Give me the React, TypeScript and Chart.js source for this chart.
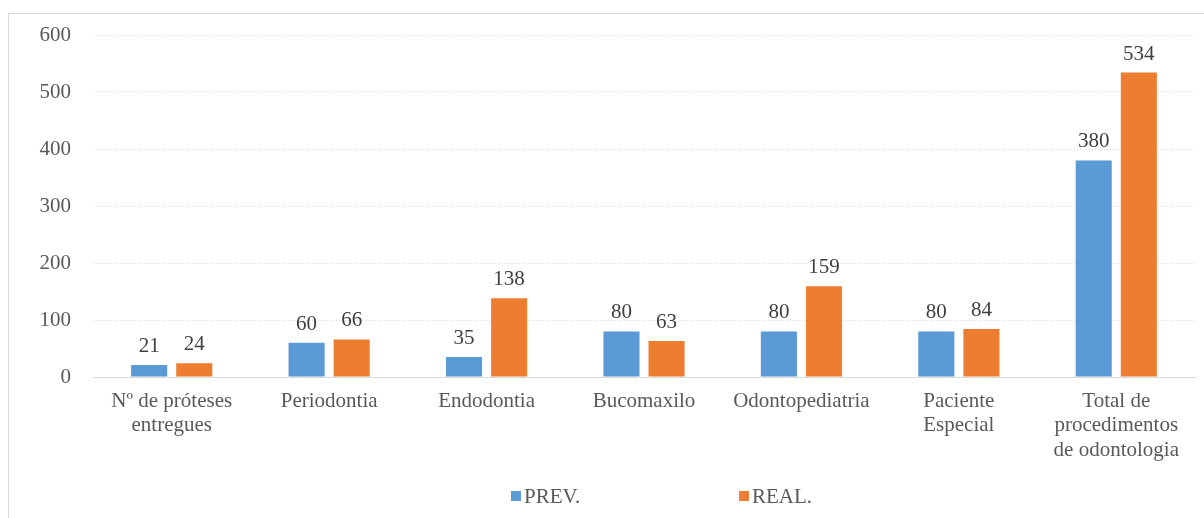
import React, { useEffect, useRef } from "react";
import { Chart, registerables } from "chart.js";

Chart.register(...registerables);

const categories: string[][] = [
  ["Nº de próteses", "entregues"],
  ["Periodontia"],
  ["Endodontia"],
  ["Bucomaxilo"],
  ["Odontopediatria"],
  ["Paciente", "Especial"],
  ["Total de", "procedimentos", "de odontologia"],
];
const prevValues = [21, 60, 35, 80, 80, 80, 380];
const realValues = [24, 66, 138, 63, 159, 84, 534];
const seriesNames = ["PREV.", "REAL."];
const seriesColors = ["#5B9BD5", "#ED7D31"];

const FONT = "'Liberation Serif', 'Times New Roman', serif";

const valueLabels = {
  id: "valueLabels",
  afterDatasetsDraw(chart: any) {
    const ctx = chart.ctx;
    ctx.save();
    ctx.font = `21px ${FONT}`;
    ctx.fillStyle = "#404040";
    ctx.textAlign = "center";
    ctx.textBaseline = "alphabetic";
    chart.data.datasets.forEach((ds: any, i: number) => {
      const meta = chart.getDatasetMeta(i);
      meta.data.forEach((bar: any, j: number) => {
        ctx.fillText(String(ds.data[j]), bar.x, bar.y - 13);
      });
    });
    ctx.restore();
  },
};

export default function App() {
  const ref = useRef<HTMLCanvasElement>(null);
  useEffect(() => {
    if (!ref.current) return;
    const chart = new Chart(ref.current, {
      type: "bar",
      data: {
        labels: categories,
        datasets: [
          {
            label: seriesNames[0],
            data: prevValues,
            backgroundColor: seriesColors[0],
            categoryPercentage: 0.573,
            barPercentage: 0.8,
          },
          {
            label: seriesNames[1],
            data: realValues,
            backgroundColor: seriesColors[1],
            categoryPercentage: 0.573,
            barPercentage: 0.8,
          },
        ],
      },
      options: {
        animation: false,
        responsive: false,
        layout: { padding: { left: 0, right: 9, top: 35, bottom: 0 } },
        plugins: {
          legend: { display: false },
          tooltip: { enabled: false },
        },
        scales: {
          x: {
            grid: { display: false, drawTicks: false },
            border: { display: true, color: "#d9d9d9", width: 1 },
            ticks: {
              color: "#595959",
              font: { family: FONT, size: 21, lineHeight: 1.17 },
              padding: 12,
              maxRotation: 0,
              autoSkip: false,
            },
            afterFit: (scale: any) => {
              scale.height = 518 - 377;
            },
          },
          y: {
            min: 0,
            max: 600,
            grid: {
              color: "#d9d9d9",
              drawTicks: false,
              lineWidth: 1,
            },
            border: { display: false, dash: [1, 2] },
            ticks: {
              stepSize: 100,
              color: "#595959",
              font: { family: FONT, size: 21 },
              padding: 22,
            },
            afterFit: (scale: any) => {
              scale.width = 93;
            },
          },
        },
      },
      plugins: [valueLabels],
    });
    return () => chart.destroy();
  }, []);

  const legendItem = (i: number, left: number) => (
    <div
      style={{
        position: "absolute",
        left,
        top: 484,
        display: "flex",
        alignItems: "center",
        fontFamily: FONT,
        fontSize: 21,
        color: "#595959",
        lineHeight: "24px",
      }}
    >
      <span
        style={{
          display: "inline-block",
          width: 10,
          height: 10,
          background: seriesColors[i],
          marginRight: 3,
        }}
      />
      <span>{seriesNames[i]}</span>
    </div>
  );

  return (
    <div
      style={{
        position: "fixed",
        left: 0,
        top: 0,
        width: 1204,
        height: 518,
        overflow: "hidden",
        background: "#fff",
      }}
    >
      <div
        style={{
          position: "absolute",
          left: 8,
          top: 13,
          width: 1210,
          height: 520,
          border: "1px solid #d9d9d9",
          boxSizing: "border-box",
        }}
      />
      <canvas
        ref={ref}
        width={1204}
        height={518}
        style={{ position: "absolute", left: 0, top: 0 }}
      />
      {legendItem(0, 511)}
      {legendItem(1, 739)}
    </div>
  );
}
